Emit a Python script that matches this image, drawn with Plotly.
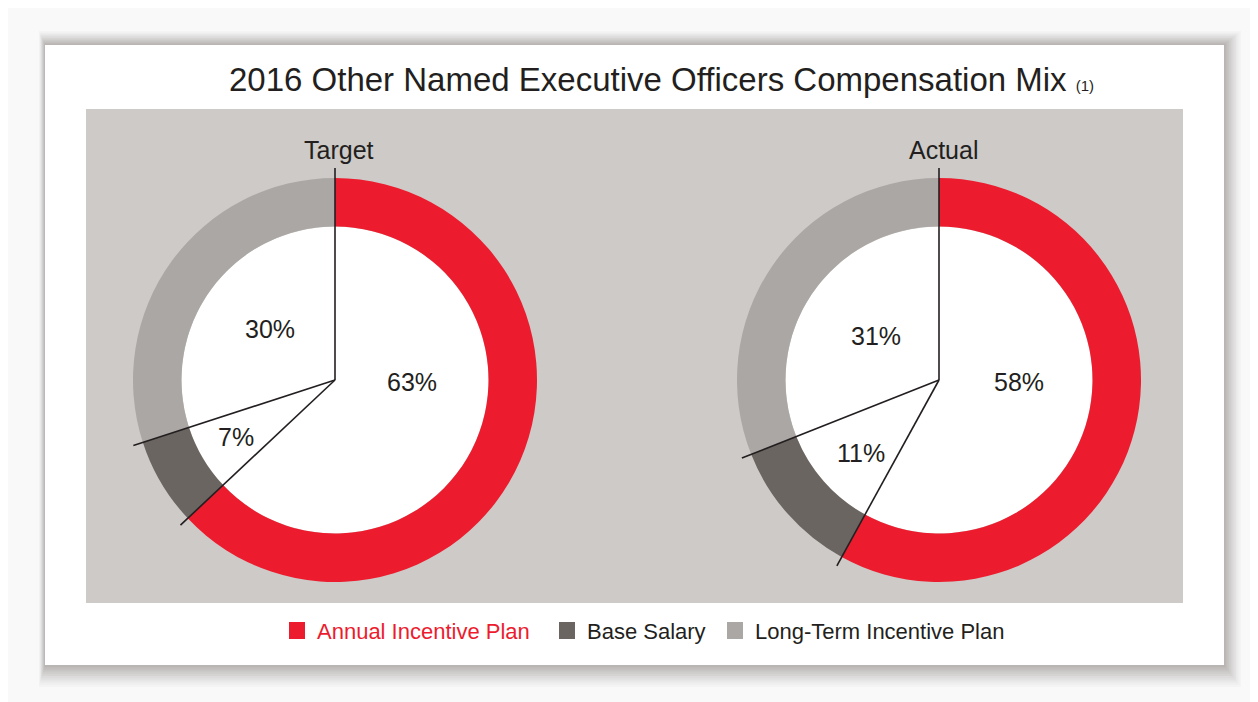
import math
import plotly.graph_objects as go

# ---- data ----
categories = ["Annual Incentive Plan", "Base Salary", "Long-Term Incentive Plan"]
target_values = [63, 7, 30]
actual_values = [58, 11, 31]
chart_names = ["Target", "Actual"]
title_text = "2016 Other Named Executive Officers Compensation Mix"
footnote = "(1)"

# ---- styles ----
colors = ["#ec1c2e", "#6b6561", "#aba7a4"]
legend_text_colors = ["#ec1c2e", "#231f20", "#231f20"]
W, H = 1258, 702
OFF = 8  # page body margin
FONT = "Liberation Sans, Arial, sans-serif"
TXT = "#231f20"

centers = [(335, 380), (939, 380)]
R_OUT = 202
HOLE = 0.76
LINE_LEN = 212
label_pos = [[(412, 382), (236, 437), (270, 329)],
             [(1019, 382), (861, 453), (876, 336)]]


def px(x):
    return (x - OFF) / W


def py(y):
    return 1 - (y - OFF) / H


fig = go.Figure()
shapes = []
annotations = []

# card shadow (soft, mostly bottom/right)
for g in range(20, 0, -2):
    op = 0.022 + 0.004 * (20 - g) / 2
    shapes.append(dict(type="rect", xref="paper", yref="paper", layer="below",
                       x0=px(45 - g * 0.3), x1=px(1224 + g * 0.85), y0=py(665 + g * 1.1), y1=py(45 - g * 0.7),
                       fillcolor=f"rgba(70,60,55,{op:.3f})", line=dict(width=0)))
# card
shapes.append(dict(type="rect", xref="paper", yref="paper", layer="below",
                   x0=px(45), x1=px(1224), y0=py(665), y1=py(45),
                   fillcolor="white", line=dict(width=0)))
# gray plot area
shapes.append(dict(type="rect", xref="paper", yref="paper", layer="below",
                   x0=px(86), x1=px(1183), y0=py(603), y1=py(109),
                   fillcolor="#cdcac7", line=dict(width=0)))

for k, (vals, name) in enumerate(zip([target_values, actual_values], chart_names)):
    cx, cy = centers[k]
    fig.add_trace(go.Pie(
        labels=categories, values=vals, sort=False, direction="clockwise", rotation=0,
        hole=HOLE, textinfo="none", hoverinfo="label+percent",
        marker=dict(colors=colors, line=dict(width=0)),
        domain=dict(x=[px(cx - R_OUT), px(cx + R_OUT)], y=[py(cy + R_OUT), py(cy - R_OUT)]),
        showlegend=False, name=name,
    ))
    # white hole
    r_in = R_OUT * HOLE
    shapes.append(dict(type="circle", xref="paper", yref="paper", layer="below",
                       x0=px(cx - r_in), x1=px(cx + r_in), y0=py(cy + r_in), y1=py(cy - r_in),
                       fillcolor="white", line=dict(width=0)))
    # radial separator lines
    total = sum(vals)
    cum = 0
    for v in [0] + vals[:-1]:
        cum += v
        th = 2 * math.pi * cum / total
        ex = cx + LINE_LEN * math.sin(th)
        ey = cy - LINE_LEN * math.cos(th)
        shapes.append(dict(type="line", xref="paper", yref="paper", layer="above",
                           x0=px(cx), y0=py(cy), x1=px(ex), y1=py(ey),
                           line=dict(color="#231f20", width=1.6)))
    # chart name
    annotations.append(dict(x=px(cx + 4), y=py(150), xref="paper", yref="paper",
                            text=name, showarrow=False, xanchor="center", yanchor="middle",
                            font=dict(family=FONT, size=25, color=TXT)))
    # percent labels
    for (lx, ly), v in zip(label_pos[k], vals):
        annotations.append(dict(x=px(lx), y=py(ly), xref="paper", yref="paper",
                                text=f"{v}%", showarrow=False, xanchor="center", yanchor="middle",
                                font=dict(family=FONT, size=25, color=TXT)))

# title
annotations.append(dict(x=px(661), y=py(80), xref="paper", yref="paper",
                        text=title_text + f" <span style='font-size:15px'>{footnote}</span>",
                        showarrow=False, xanchor="center", yanchor="middle",
                        font=dict(family=FONT, size=33, color=TXT)))

# legend
leg_sq_x = [289, 559, 727]
for i, cat in enumerate(categories):
    sx = leg_sq_x[i]
    shapes.append(dict(type="rect", xref="paper", yref="paper", layer="above",
                       x0=px(sx), x1=px(sx + 16), y0=py(639), y1=py(622),
                       fillcolor=colors[i], line=dict(width=0)))
    annotations.append(dict(x=px(sx + 26), y=py(631), xref="paper", yref="paper",
                            text=cat, showarrow=False, xanchor="left", yanchor="middle",
                            font=dict(family=FONT, size=22, color=legend_text_colors[i])))

fig.update_layout(
    width=W, height=H, margin=dict(l=0, r=0, t=0, b=0),
    paper_bgcolor="#f9f9f9", plot_bgcolor="#f9f9f9",
    shapes=shapes, annotations=annotations, showlegend=False,
)
fig.write_html("out.html")
